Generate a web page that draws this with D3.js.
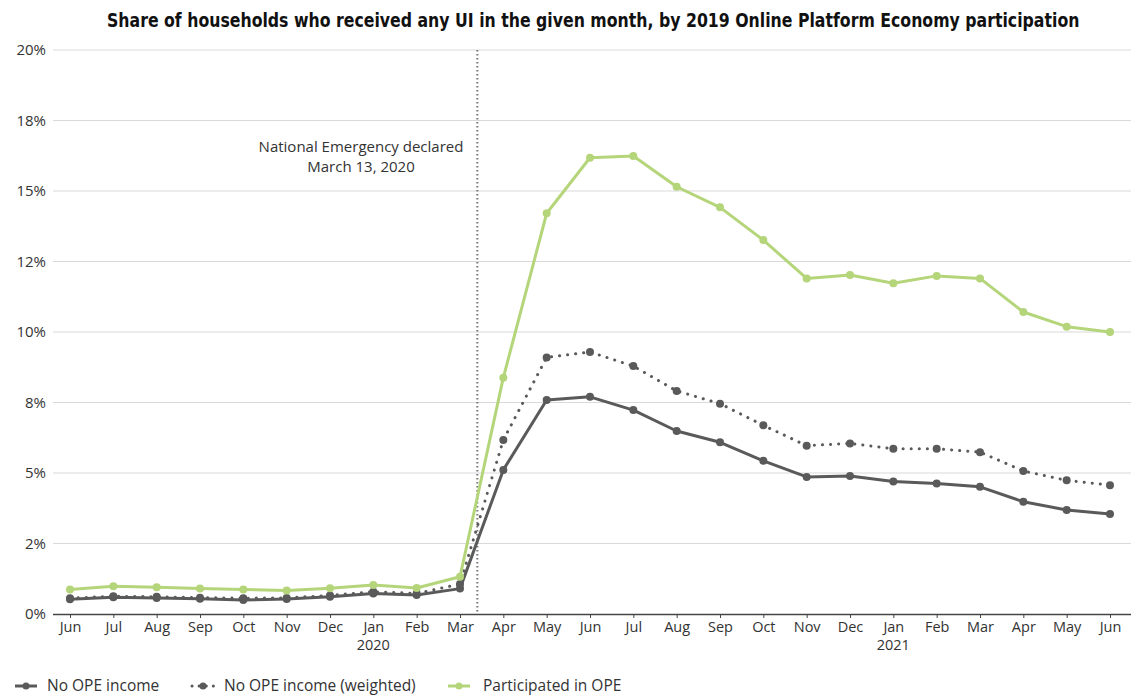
<!DOCTYPE html>
<html>
<head>
<meta charset="utf-8">
<script src="https://cdn.jsdelivr.net/npm/d3@7"></script>
<style>
  html, body { margin: 0; padding: 0; background: #fff; }
  svg { display: block; }
</style>
</head>
<body>
<svg id="chart" width="1131" height="695"></svg>
<script>
// Months from June 2019 through June 2021
const months = ["Jun","Jul","Aug","Sep","Oct","Nov","Dec","Jan","Feb","Mar","Apr","May",
                "Jun","Jul","Aug","Sep","Oct","Nov","Dec","Jan","Feb","Mar","Apr","May","Jun"];
const yearLabels = [{ index: 7, label: "2020" }, { index: 19, label: "2021" }];

// Share of households receiving any UI (%)
const noOpe = [0.52,0.59,0.57,0.54,0.50,0.53,0.61,0.73,0.67,0.90,5.11,7.59,
               7.70,7.23,6.49,6.09,5.43,4.86,4.89,4.70,4.63,4.51,3.98,3.69,3.55];
const noOpeWeighted = [0.56,0.63,0.61,0.58,0.56,0.57,0.66,0.79,0.73,1.06,6.17,9.10,
               9.29,8.79,7.91,7.46,6.69,5.97,6.05,5.86,5.86,5.74,5.07,4.74,4.57];
const participated = [0.87,0.98,0.95,0.90,0.87,0.83,0.91,1.03,0.92,1.32,8.38,14.21,
               16.18,16.24,15.15,14.42,13.26,11.90,12.02,11.73,11.99,11.90,10.71,10.19,10.00];

const yTickValues = [0, 2.5, 5, 7.5, 10, 12.5, 15, 17.5, 20];
const yTickLabels = ["0%","2%","5%","8%","10%","12%","15%","18%","20%"];

// National Emergency declared March 13, 2020 (fraction into March)
const emergencyPos = 9.4;

const series = [
  { name: "No OPE income", values: noOpe, color: "#5a5a5a", dash: null },
  { name: "No OPE income (weighted)", values: noOpeWeighted, color: "#5a5a5a", dash: "0.1 8" },
  { name: "Participated in OPE", values: participated, color: "#b5d57a", dash: null }
];

const svg = d3.select("#chart");
const plotLeft = 53, plotRight = 1131, plotTop = 50, plotBottom = 614;
const xStart = 70, xEnd = 1110;

const x = d3.scaleLinear().domain([0, months.length - 1]).range([xStart, xEnd]);
const y = d3.scaleLinear().domain([0, 20]).range([plotBottom, plotTop]);

const titleFont = "'DejaVu Sans', sans-serif";
const regular = "'Open Sans', 'Liberation Sans', sans-serif";

// Title: bold face squeezed horizontally to a condensed width
const titleWidth = 973;
const title = svg.append("text")
  .attr("x", 0).attr("y", 0)
  .attr("font-family", titleFont)
  .attr("font-weight", "bold")
  .attr("font-size", 19)
  .attr("fill", "#111")
  .text("Share of households who received any UI in the given month, by 2019 Online Platform Economy participation");
const naturalWidth = title.node().getComputedTextLength();
title.attr("transform", `translate(107,27) scale(${titleWidth / naturalWidth},1)`);

// Gridlines
svg.append("g").selectAll("line")
  .data(yTickValues.filter(d => d > 0))
  .join("line")
  .attr("x1", plotLeft).attr("x2", plotRight)
  .attr("y1", d => y(d)).attr("y2", d => y(d))
  .attr("stroke", "#d9d9d9").attr("stroke-width", 1);

// Y axis labels
const yAxis = d3.axisLeft(y).tickValues(yTickValues)
  .tickFormat((d, i) => yTickLabels[i]).tickSize(0).tickPadding(7);
svg.append("g")
  .attr("transform", `translate(${plotLeft},0)`)
  .call(yAxis)
  .call(g => g.select(".domain").remove())
  .call(g => g.selectAll("text")
    .attr("font-family", regular).attr("font-size", 15).attr("fill", "#333"));

// X axis
const xAxis = d3.axisBottom(x).tickValues(d3.range(months.length))
  .tickFormat(i => months[i]).tickSizeInner(4).tickSizeOuter(0).tickPadding(4);
const xg = svg.append("g")
  .attr("transform", `translate(0,${plotBottom})`)
  .call(xAxis);
xg.select(".domain").attr("d", `M${plotLeft},0.5H${plotRight}`).attr("stroke", "#444").attr("stroke-width", 1.5);
xg.selectAll(".tick line").attr("stroke", "#444");
xg.selectAll("text")
  .attr("font-family", regular).attr("font-size", 14.5).attr("fill", "#333");

svg.append("g").selectAll("text")
  .data(yearLabels)
  .join("text")
  .attr("x", d => x(d.index)).attr("y", plotBottom + 36)
  .attr("text-anchor", "middle")
  .attr("font-family", regular).attr("font-size", 14.5).attr("fill", "#333")
  .text(d => d.label);

// Emergency declaration line
svg.append("line")
  .attr("x1", x(emergencyPos)).attr("x2", x(emergencyPos))
  .attr("y1", plotTop).attr("y2", plotBottom)
  .attr("stroke", "#777").attr("stroke-width", 2)
  .attr("stroke-dasharray", "1.5 2.5");

const note = svg.append("g")
  .attr("font-family", regular).attr("font-size", 15).attr("fill", "#333")
  .attr("text-anchor", "middle");
note.append("text").attr("x", 361).attr("y", 152).text("National Emergency declared");
note.append("text").attr("x", 361).attr("y", 172).text("March 13, 2020");

// Series lines and markers
const line = d3.line().x((d, i) => x(i)).y(d => y(d));
series.forEach(s => {
  const g = svg.append("g");
  g.append("path")
    .attr("d", line(s.values))
    .attr("fill", "none")
    .attr("stroke", s.color)
    .attr("stroke-width", 3)
    .attr("stroke-linecap", s.dash ? "round" : "butt")
    .attr("stroke-linejoin", "round")
    .attr("stroke-dasharray", s.dash);
  g.selectAll("circle")
    .data(s.values)
    .join("circle")
    .attr("cx", (d, i) => x(i)).attr("cy", d => y(d))
    .attr("r", 4)
    .attr("fill", s.color);
});

// Legend
const legendItems = [
  { s: series[0], x: 15, tx: 47 },
  { s: series[1], x: 192, tx: 224 },
  { s: series[2], x: 448, tx: 483 }
];
const lg = svg.append("g");
legendItems.forEach(item => {
  const ly = 686;
  lg.append("line")
    .attr("x1", item.x).attr("x2", item.x + 22)
    .attr("y1", ly).attr("y2", ly)
    .attr("stroke", item.s.color).attr("stroke-width", 3)
    .attr("stroke-linecap", item.s.dash ? "round" : "butt")
    .attr("stroke-dasharray", item.s.dash ? "0.1 7" : null);
  lg.append("circle")
    .attr("cx", item.x + 11).attr("cy", ly).attr("r", 3.5)
    .attr("fill", item.s.color);
  lg.append("text")
    .attr("x", item.tx).attr("y", ly + 5)
    .attr("font-family", regular).attr("font-size", 15.5).attr("fill", "#333")
    .text(item.s.name);
});
</script>
</body>
</html>
